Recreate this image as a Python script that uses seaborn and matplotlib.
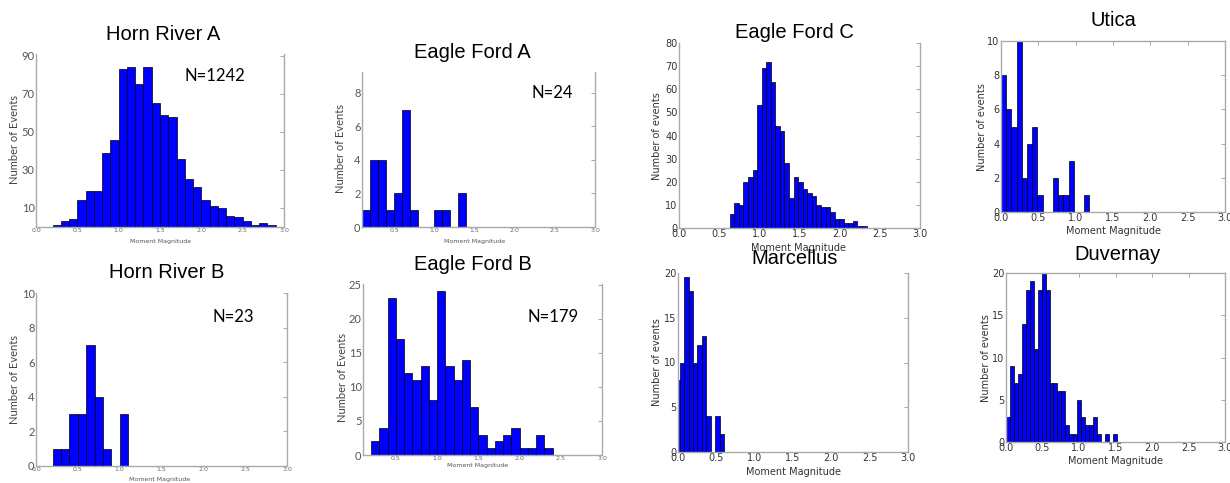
import numpy as np
import pandas as pd
import matplotlib
matplotlib.use("Agg")
import matplotlib.pyplot as plt
import seaborn as sns

# event counts per magnitude bin
horn_a_counts = [1, 3, 4, 14, 19, 19, 39, 46, 83, 84, 75, 84, 65, 59, 58, 36,
                 25, 21, 14, 11, 10, 6, 5, 3, 1, 2, 1]
horn_a_bins = (0.2, 2.9)

eagle_a_counts = [1, 4, 4, 1, 2, 7, 1, 0, 0, 1, 1, 0, 2]
eagle_a_bins = (0.1, 1.4)

eagle_c_counts = [6, 11, 10, 20, 22, 25, 53, 69, 72, 63, 44, 42, 28, 13, 22,
                  20, 17, 15, 14, 10, 9, 9, 7, 4, 4, 2, 2, 3, 1, 1]
eagle_c_bins = (0.631, 2.335)

utica_counts = [8, 6, 5, 10, 2, 4, 5, 1, 0, 0, 2, 1, 1, 3, 0, 0, 1]
utica_bins = (0.0, 1.183)

horn_b_counts = [1, 1, 3, 3, 7, 4, 1, 0, 3]
horn_b_bins = (0.2, 1.1)

eagle_b_counts = [2, 4, 23, 17, 12, 11, 13, 8, 24, 13, 11, 14, 7, 3, 1, 2,
                  3, 4, 1, 1, 3, 1]
eagle_b_bins = (0.2, 2.4)

marcellus_counts = [8, 10, 19.5, 18, 10, 12, 13, 4, 0, 4, 2]
marcellus_bins = (-0.037, 0.602)

duvernay_counts = [3, 9, 7, 8, 14, 18, 19, 11, 18, 20, 18, 7, 7, 6, 6, 2, 1,
                   1, 5, 3, 2, 2, 3, 1, 0, 1, 0, 1]
duvernay_bins = (0.0, 1.518)

W, H = 1230, 483
sns.set_style("white")
plt.rcParams["font.family"] = ["DejaVu Sans"]

fig = plt.figure(figsize=(W / 100, H / 100), dpi=100)


def box(l, t, r, b):
    return [l / W, 1 - b / H, (r - l) / W, (b - t) / H]


mags = [0.0, 0.5, 1.0, 1.5, 2.0, 2.5, 3.0]
panels = [
    dict(title="Horn River A", counts=horn_a_counts, bins=horn_a_bins, n="N=1242",
         box=(36, 54, 284, 227), title_xy=(163, 35), n_xy=(215, 76),
         ylabel="Number of Events", ylab_xy=(14, 140), xlab_xy=(161, 241),
         ylim=(0, 91), yticks=[10, 30, 50, 70, 90], xlim=(0, 3), xticks=mags,
         slide=True, top=False),
    dict(title="Eagle Ford A", counts=eagle_a_counts, bins=eagle_a_bins, n="N=24",
         box=(362, 72, 595, 227), title_xy=(472, 52), n_xy=(552, 93),
         ylabel="Number of Events", ylab_xy=(340, 148), xlab_xy=(475, 241),
         ylim=(0, 9.25), yticks=[0, 2, 4, 6, 8], xlim=(0.1, 3), xticks=mags[1:],
         slide=True, top=False),
    dict(title="Eagle Ford C", counts=eagle_c_counts, bins=eagle_c_bins, n=None,
         box=(679, 43, 920, 228), title_xy=(794, 32),
         ylabel="Number of events", ylab_xy=(657, 136), xlab_xy=(799, 248),
         ylim=(0, 80), yticks=range(0, 81, 10), xlim=(0, 3), xticks=mags,
         slide=False, top=False),
    dict(title="Utica", counts=utica_counts, bins=utica_bins, n=None,
         box=(1001, 41, 1225, 212), title_xy=(1113, 21),
         ylabel="Number of events", ylab_xy=(982, 127), xlab_xy=(1113, 231),
         ylim=(0, 10), yticks=range(0, 11, 2), xlim=(0, 3), xticks=mags,
         slide=False, top=True),
    dict(title="Horn River B", counts=horn_b_counts, bins=horn_b_bins, n="N=23",
         box=(36, 293, 287, 466), title_xy=(167, 273), n_xy=(233, 317),
         ylabel="Number of Events", ylab_xy=(15, 380), xlab_xy=(160, 480),
         ylim=(0, 10), yticks=range(0, 11, 2), xlim=(0, 3), xticks=mags,
         slide=True, top=False),
    dict(title="Eagle Ford B", counts=eagle_b_counts, bins=eagle_b_bins, n="N=179",
         box=(363, 284, 602, 455), title_xy=(473, 265), n_xy=(553, 317),
         ylabel="Number of Events", ylab_xy=(342, 377), xlab_xy=(478, 466),
         ylim=(0, 25.1), yticks=range(0, 26, 5), xlim=(0.1, 3), xticks=mags[1:],
         slide=True, top=False),
    dict(title="Marcellus", counts=marcellus_counts, bins=marcellus_bins, n=None,
         box=(678, 273, 908, 452), title_xy=(795, 259),
         ylabel="Number of events", ylab_xy=(657, 362), xlab_xy=(793, 472),
         ylim=(0, 20), yticks=range(0, 21, 5), xlim=(0, 3), xticks=mags,
         slide=False, top=False),
    dict(title="Duvernay", counts=duvernay_counts, bins=duvernay_bins, n=None,
         box=(1006, 273, 1225, 442), title_xy=(1118, 254),
         ylabel="Number of events", ylab_xy=(986, 358), xlab_xy=(1115, 461),
         ylim=(0, 20), yticks=range(0, 21, 5), xlim=(0, 3), xticks=mags,
         slide=False, top=True),
]

for p in panels:
    ax = fig.add_axes(box(*p["box"]))
    edges = np.linspace(p["bins"][0], p["bins"][1], len(p["counts"]) + 1)
    df = pd.DataFrame({"mag": (edges[:-1] + edges[1:]) / 2, "n": p["counts"]})
    sns.histplot(data=df, x="mag", weights="n", bins=list(edges), ax=ax,
                 color="#0000ff", edgecolor="black", linewidth=0.5, alpha=1)
    ax.set_xlim(*p["xlim"])
    ax.set_ylim(*p["ylim"])
    ax.set_xticks(p["xticks"])
    ax.set_yticks(list(p["yticks"]))
    ax.set_xticklabels([f"{v:.1f}" for v in p["xticks"]])
    for side in ["left", "right", "bottom", "top"]:
        ax.spines[side].set_color("#aaaaaa")
        ax.spines[side].set_linewidth(1.0)
    ax.spines["top"].set_visible(p["top"])
    ax.tick_params(direction="in", length=3, width=0.6, color="#999999",
                   right=True, top=p["top"], pad=1)

    if p["slide"]:
        ax.tick_params(axis="x", labelsize=4.5, labelcolor="#666666")
        ax.tick_params(axis="y", labelsize=8, labelcolor="#555555")
        for t in ax.get_yticklabels():
            t.set_family("Lato")
        ax.set_ylabel(p["ylabel"], family="Lato", fontsize=8, color="#444444", va="center")
        ax.set_xlabel("Moment Magnitude", fontsize=4.5, color="#555555", va="center")
    else:
        ax.tick_params(axis="x", labelsize=7, labelcolor="#333333", pad=1)
        ax.tick_params(axis="y", labelsize=7, labelcolor="#333333")
        ax.set_ylabel(p["ylabel"], fontsize=7, color="#333333", va="center")
        ax.set_xlabel("Moment Magnitude", fontsize=7, color="#333333", va="center")

    ax.yaxis.set_label_coords(p["ylab_xy"][0] / W, 1 - p["ylab_xy"][1] / H,
                              transform=fig.transFigure)
    ax.xaxis.set_label_coords(p["xlab_xy"][0] / W, 1 - p["xlab_xy"][1] / H,
                              transform=fig.transFigure)

    fig.text(p["title_xy"][0] / W, 1 - p["title_xy"][1] / H, p["title"],
             family="Liberation Sans", fontsize=14.5, color="black",
             ha="center", va="center")
    if p["n"]:
        fig.text(p["n_xy"][0] / W, 1 - p["n_xy"][1] / H, p["n"],
                 family="Lato", fontsize=12, color="black", ha="center", va="center")

fig.savefig("out.png", dpi=100, facecolor="white")
